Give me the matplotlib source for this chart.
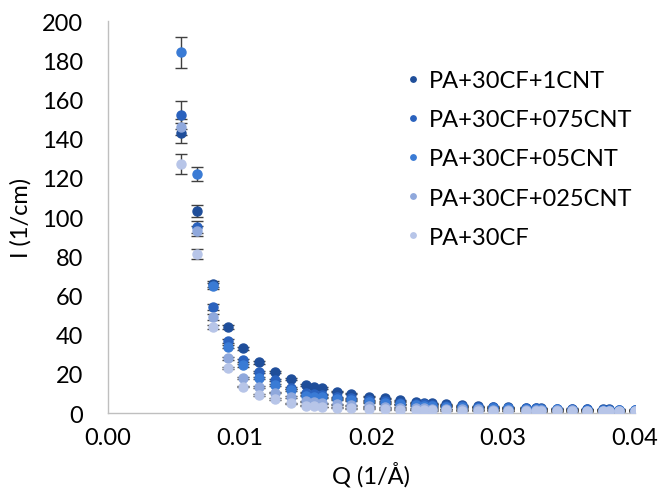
import numpy as np
from matplotlib import pyplot as plt

plt.rcParams['font.family'] = ['Lato', 'DejaVu Sans']

# scattering vector Q (1/A)
q = [0.00554, 0.00673, 0.00795, 0.00913, 0.01025, 0.01147, 0.01268, 0.01388,
     0.01503, 0.01563, 0.01624, 0.01736, 0.01845, 0.01983, 0.0210, 0.0222,
     0.0234, 0.0240, 0.0246, 0.0257, 0.0269, 0.0281, 0.0292, 0.0304,
     0.0317, 0.0325, 0.0329, 0.0341, 0.0352, 0.0364, 0.0376, 0.0380,
     0.0388, 0.0400]

# intensity I (1/cm)
i_1cnt = [143, 103, 66, 44, 33, 26, 21, 17.3, 14.5, 13.5, 12.8, 11, 10, 8.5,
          7.5, 6.5, 5.5, 5.2, 5, 4.5, 4, 3.6, 3.3, 3, 2.7, 2.6, 2.5, 2.3,
          2.2, 2.0, 1.9, 1.9, 1.8, 1.7]
i_075cnt = [152, 95, 54, 37, 27, 21, 17, 13, 10.5, 10, 9.5, 8, 7.5, 6.5,
            6, 5.2, 4.8, 4.5, 4.3, 3.9, 3.5, 3.2, 3, 2.7, 2.5, 2.4, 2.3, 2.1,
            2.0, 1.9, 1.8, 1.7, 1.7, 1.6]
i_05cnt = [184, 122, 65, 34, 24.5, 18, 14.3, 12, 9, 8.5, 8, 7, 6.5, 5.5,
           5, 4.5, 4, 3.8, 3.6, 3.3, 3, 2.8, 2.6, 2.4, 2.2, 2.1, 2.0, 1.9,
           1.8, 1.7, 1.6, 1.6, 1.5, 1.5]
i_025cnt = [146, 93, 49, 28, 18, 13.3, 10.5, 8.3, 6, 5.5, 5, 4.5, 4, 3.5,
            3, 2.8, 2.5, 2.4, 2.3, 2.1, 2.0, 1.9, 1.8, 1.7, 1.6, 1.5, 1.5,
            1.4, 1.4, 1.3, 1.3, 1.2, 1.2, 1.2]
i_pa = [127, 81, 44, 23, 13.6, 9.2, 7.1, 5.1, 3.8, 3.5, 3.2, 2.8, 2.5, 2.2,
        2.0, 1.8, 1.6, 1.5, 1.5, 1.4, 1.3, 1.2, 1.2, 1.1, 1.1, 1.0, 1.0,
        1.0, 1.0, 0.9, 0.9, 0.9, 0.9, 0.9]

# error bars
e_1cnt = [5, 3, 1.5, 1, 0.8, 0.7, 0.6, 0.5, 0.5, 0.4, 0.4, 0.4, 0.3, 0.3,
          0.3, 0.3, 0.2, 0.2, 0.2, 0.2, 0.2, 0.2, 0.2, 0.2, 0.2, 0.2, 0.2,
          0.2, 0.2, 0.2, 0.2, 0.2, 0.2, 0.2]
e_075cnt = [7, 3, 1.5, 1, 0.8, 0.7, 0.6, 0.5, 0.4, 0.4, 0.4, 0.3, 0.3, 0.3,
            0.3, 0.3, 0.2, 0.2, 0.2, 0.2, 0.2, 0.2, 0.2, 0.2, 0.2, 0.2, 0.2,
            0.2, 0.2, 0.2, 0.2, 0.2, 0.2, 0.2]
e_05cnt = [8, 3.5, 1.5, 1, 0.8, 0.6, 0.5, 0.5, 0.4, 0.4, 0.4, 0.3, 0.3, 0.3,
           0.3, 0.2, 0.2, 0.2, 0.2, 0.2, 0.2, 0.2, 0.2, 0.2, 0.2, 0.2, 0.2,
           0.2, 0.2, 0.2, 0.2, 0.2, 0.2, 0.2]
e_025cnt = [4, 2.5, 1.5, 0.8, 0.6, 0.5, 0.4, 0.4, 0.3, 0.3, 0.3, 0.3, 0.2,
            0.2, 0.2, 0.2, 0.2, 0.2, 0.2, 0.2, 0.2, 0.2, 0.2, 0.2, 0.2, 0.2,
            0.2, 0.2, 0.2, 0.2, 0.2, 0.2, 0.2, 0.2]
e_pa = [5, 2.5, 1.2, 0.7, 0.5, 0.4, 0.4, 0.3, 0.3, 0.3, 0.2, 0.2, 0.2, 0.2,
        0.2, 0.2, 0.2, 0.2, 0.2, 0.2, 0.2, 0.2, 0.2, 0.2, 0.2, 0.2, 0.2,
        0.2, 0.2, 0.2, 0.2, 0.2, 0.2, 0.2]

labels = ['PA+30CF+1CNT', 'PA+30CF+075CNT', 'PA+30CF+05CNT',
          'PA+30CF+025CNT', 'PA+30CF']
series = [i_1cnt, i_075cnt, i_05cnt, i_025cnt, i_pa]
errors = [e_1cnt, e_075cnt, e_05cnt, e_025cnt, e_pa]
colors = ['#1f4e9a', '#2a62be', '#3a7bd5', '#8fa8dc', '#b7c5e8']

fig = plt.figure(figsize=(6.62, 4.89), dpi=100)
ax = fig.add_axes([0.163, 0.153, 0.796, 0.802])

for y, e, c, lab in zip(series, errors, colors, labels):
    ax.errorbar(q, y, yerr=e, fmt='none', ecolor='#404040', elinewidth=1,
                capsize=4, capthick=1, zorder=2)
    ax.plot(q, y, 'o', color=c, markersize=6.5, label=lab, zorder=3)

ax.set_xlim(0, 0.04)
ax.set_ylim(0, 200)
ax.set_xticks(np.arange(0, 0.041, 0.01))
ax.set_xticklabels(['0.00', '0.01', '0.02', '0.03', '0.04'])
ax.set_yticks(np.arange(0, 201, 20))
ax.tick_params(length=0, labelsize=17)
ax.tick_params(axis='y', pad=18)
ax.tick_params(axis='x', pad=10)
ax.set_xlabel('Q (1/Å)', fontsize=17, labelpad=9)
ax.set_ylabel('I (1/cm)', fontsize=17, labelpad=7)

for s in ['top', 'right']:
    ax.spines[s].set_visible(False)
for s in ['left', 'bottom']:
    ax.spines[s].set_color('#bfbfbf')
    ax.spines[s].set_linewidth(1)

ax.legend(loc='upper left', bbox_to_anchor=(403.5 / 662, 1 - 71 / 489),
          bbox_transform=fig.transFigure, frameon=False, fontsize=17,
          markerscale=0.6, handletextpad=0.28, labelspacing=0.77,
          handlelength=0.8, borderpad=0, borderaxespad=0)

plt.savefig('out.png', dpi=100)
